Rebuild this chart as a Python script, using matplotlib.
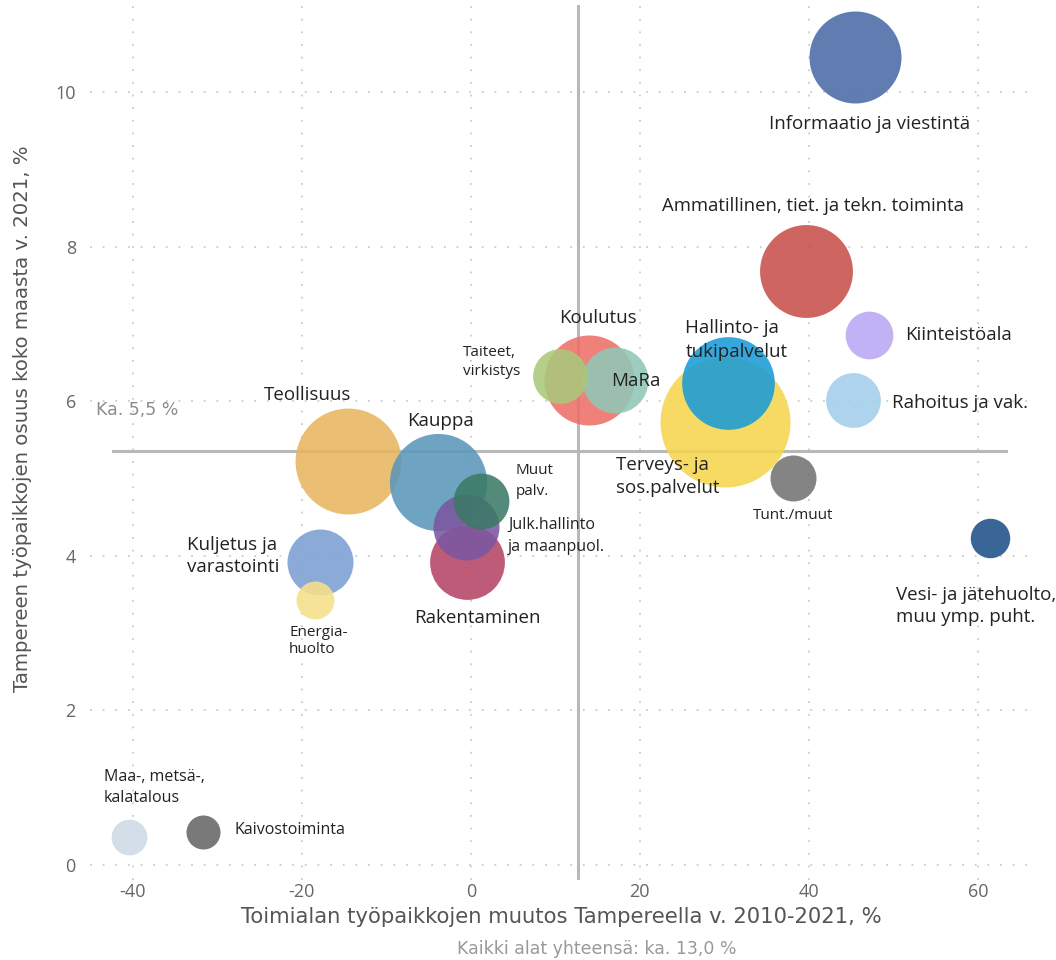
import matplotlib.pyplot as plt

plt.rcParams['font.family'] = ['Open Sans', 'DejaVu Sans']
plt.rcParams['axes.unicode_minus'] = False

# toimialat: muutos 2010-2021 (%), osuus koko maasta (%), koko (suht.)
toimialat = ['Informaatio ja viestintä', 'Ammatillinen, tiet. ja tekn. toiminta',
             'Kiinteistöala', 'Rahoitus ja vak.', 'Koulutus', 'Taiteet, virkistys',
             'MaRa', 'Hallinto- ja tukipalvelut', 'Terveys- ja sos.palvelut',
             'Tunt./muut', 'Vesi- ja jätehuolto', 'Teollisuus', 'Kauppa',
             'Muut palv.', 'Julk.hallinto ja maanpuol.', 'Rakentaminen',
             'Kuljetus ja varastointi', 'Energiahuolto', 'Maa-, metsä-, kalatalous',
             'Kaivostoiminta']
muutos = [45.5, 39.7, 47.1, 45.2, 14.0, 10.5, 17.1, 30.4, 30.1, 38.1, 61.4,
          -14.5, -3.9, 1.2, -0.6, -0.5, -17.9, -18.4, -40.4, -31.7]
osuus = [10.45, 7.69, 6.86, 6.02, 6.28, 6.32, 6.27, 6.24, 5.73, 5.0, 4.23,
         5.22, 4.95, 4.71, 4.37, 3.92, 3.92, 3.43, 0.36, 0.42]
koko = [21.2, 21.6, 5.7, 7.5, 20.3, 7.5, 10.9, 21.5, 42.3, 5.3, 3.9,
        28.1, 23.6, 7.8, 10.9, 14.0, 10.9, 3.6, 3.2, 2.9]

ka_x = 12.7
ka_y = 5.35

colors = ['#4a6aa5', '#c9504a', '#b9a8f5', '#a3cdeb', '#ee6f68', '#a9c97a',
          '#8fc7b6', '#1a9bd7', '#f5d54f', '#737373', '#1f5089', '#e8b660',
          '#5b97ba', '#3b7a66', '#7b57a0', '#b54467', '#7b9ed3', '#f7e08a',
          '#cfdae6', '#666666']

# label text, x, y, fontsize, linespacing
labels = [
    ('Informaatio ja viestintä', 35.3, 9.59, 13.5, 1),
    ('Ammatillinen, tiet. ja tekn. toiminta', 22.6, 8.52, 13.3, 1),
    ('Kiinteistöala', 51.4, 6.86, 13.5, 1),
    ('Rahoitus ja vak.', 49.9, 5.98, 13.5, 1),
    ('Koulutus', 10.4, 7.08, 13.5, 1),
    ('Taiteet,\nvirkistys', -0.95, 6.51, 11, 1.35),
    ('MaRa', 16.6, 6.26, 13.5, 1),
    ('Hallinto- ja\ntukipalvelut', 25.4, 6.79, 13.5, 1.4),
    ('Terveys- ja\nsos.palvelut', 17.2, 5.02, 13.5, 1.35),
    ('Tunt./muut', 33.4, 4.52, 11, 1),
    ('Vesi- ja jätehuolto,\nmuu ymp. puht.', 50.3, 3.35, 13.5, 1.25),
    ('Teollisuus', -24.5, 6.08, 13.5, 1),
    ('Kauppa', -7.6, 5.75, 13.5, 1),
    ('Muut\npalv.', 5.3, 4.97, 11, 1.55),
    ('Julk.hallinto\nja maanpuol.', 4.4, 4.26, 11.5, 1.5),
    ('Rakentaminen', -6.7, 3.2, 13.5, 1),
    ('Kuljetus ja\nvarastointi', -33.6, 4.0, 13.5, 1.3),
    ('Energia-\nhuolto', -21.5, 2.9, 11, 1.2),
    ('Maa-, metsä-,\nkalatalous', -43.4, 1.0, 11.5, 1.45),
    ('Kaivostoiminta', -28.0, 0.45, 11.5, 1),
]

fig = plt.figure(figsize=(10.56, 9.6), dpi=100)
ax = fig.add_axes([0.085, 0.083, 0.893, 0.912])

order = sorted(range(len(koko)), key=lambda i: -koko[i])
for i in order:
    ax.scatter(muutos[i], osuus[i], s=koko[i] * 207, color=colors[i],
               alpha=0.88, linewidths=0, zorder=3)

ax.axvline(ka_x, color='#b8b8b8', lw=2.2, zorder=2)
ax.plot([-42.4, 63.3], [ka_y, ka_y], color='#b8b8b8', lw=2.2, zorder=2)
ax.text(-44.4, 5.89, 'Ka. 5,5 %', color='#8c8c8c', fontsize=12.5, va='center',
        family=['DejaVu Sans'])

for txt, x, y, fs, ls in labels:
    ax.text(x, y, txt, fontsize=fs, color='#222222', va='center', ha='left',
            linespacing=ls, zorder=5)

ax.set_xlim(-45.1, 66.5)
ax.set_ylim(-0.2, 11.13)
ax.set_xticks([-40, -20, 0, 20, 40, 60])
ax.set_yticks([0, 2, 4, 6, 8, 10])
ax.grid(True, color='#cccccc', linestyle=(0, (1, 6)), lw=1.3, zorder=0)
for s in ax.spines.values():
    s.set_visible(False)
ax.tick_params(length=0, labelsize=13, colors='#666666')
ax.tick_params(axis='x', pad=2)
ax.tick_params(axis='y', pad=10)

ax.set_xlabel('Toimialan työpaikkojen muutos Tampereella v. 2010-2021, %',
              fontsize=15.2, color='#555555', labelpad=4,
              family=['DejaVu Sans'])
ax.set_ylabel('Tampereen työpaikkojen osuus koko maasta v. 2021, %',
              fontsize=14.2, color='#555555',
              family=['DejaVu Sans'])
ax.yaxis.set_label_coords(-0.0615, 0.527)
fig.text(0.565, 0.006, 'Kaikki alat yhteensä: ka. 13,0 %', fontsize=12.5,
         color='#999999', ha='center', family=['DejaVu Sans'])

fig.savefig('out.png', dpi=100)
